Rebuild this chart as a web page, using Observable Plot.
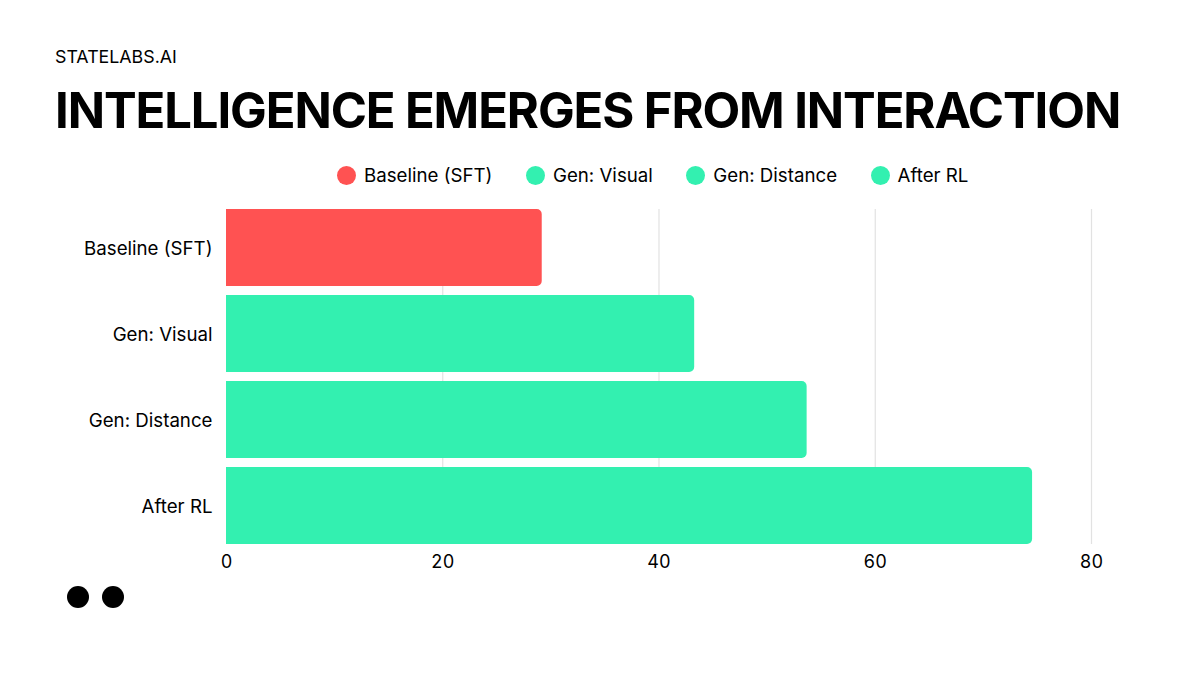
<!DOCTYPE html>
<html>
<head>
<meta charset="utf-8">
<script src="https://cdn.jsdelivr.net/npm/d3@7"></script>
<script src="https://cdn.jsdelivr.net/npm/@observablehq/plot@0.6"></script>
<style>
html,body{margin:0;padding:0;background:#fff;width:1200px;height:675px;overflow:hidden;font-family:Inter,sans-serif;color:#000}
#wrap{position:relative;width:1200px;height:675px}
#brand{position:absolute;left:55px;top:47px;font-size:17.8px;line-height:20px;font-weight:400}
#title{position:absolute;left:55px;top:80.5px;font-size:49px;line-height:60px;font-weight:700;white-space:nowrap;letter-spacing:-1.1px}
#legend{position:absolute;left:337px;top:163.5px;display:flex;gap:33.5px;font-size:18.7px;line-height:24px;font-weight:400}
.item{display:flex;align-items:center;gap:8px}
.swatch{width:19px;height:19px;border-radius:50%}
#chart{position:absolute;left:0;top:196px}
#chart svg{display:block;background:transparent}
#dots{position:absolute;left:67px;top:586px;display:flex;gap:13px}
#dots span{width:22px;height:22px;border-radius:50%;background:#000}
</style>
</head>
<body>
<div id="wrap">
<div id="brand"></div>
<div id="title"></div>
<div id="legend"></div>
<div id="chart"></div>
<div id="dots"><span></span><span></span></div>
</div>
<script>
const brand = "STATELABS.AI";
const title = "INTELLIGENCE EMERGES FROM INTERACTION";
const categories = ["Baseline (SFT)", "Gen: Visual", "Gen: Distance", "After RL"];
const values = [29.2, 43.3, 53.7, 74.55];
const colors = ["#FF5252", "#33F0B0", "#33F0B0", "#33F0B0"];
const xTicks = [0, 20, 40, 60, 80];
const gridTicks = [20, 40, 60, 80];

document.getElementById("brand").textContent = brand;
document.getElementById("title").textContent = title;
const legend = document.getElementById("legend");
categories.forEach((c, i) => {
  const item = document.createElement("div");
  item.className = "item";
  const s = document.createElement("span");
  s.className = "swatch";
  s.style.background = colors[i];
  const t = document.createElement("span");
  t.textContent = c;
  item.append(s, t);
  legend.append(item);
});

const rows = categories.map((category, i) => ({category, value: values[i]}));

const chart = Plot.plot({
  width: 1200,
  height: 390,
  marginLeft: 226,
  marginRight: 109,
  marginTop: 4,
  marginBottom: 33,
  style: {fontFamily: "Inter, sans-serif", fontSize: "18px", color: "#000", background: "transparent"},
  x: {domain: [0, 80], label: null},
  y: {domain: categories, label: null, padding: 0.105, round: false},
  color: {domain: categories, range: colors},
  marks: [
    Plot.ruleX(gridTicks, {stroke: "#e2e2e2", strokeWidth: 1.2, insetTop: 9, insetBottom: 9}),
    Plot.barX(rows, {x: "value", y: "category", fill: "category", rx2: 5}),
    Plot.axisX({ticks: xTicks, tickSize: 0, tickPadding: 2, fontSize: 18, fill: "#000", label: null, tickFormat: d => String(d)}),
    Plot.axisY({tickSize: 0, tickPadding: 14, fontSize: 18.7, fill: "#000", label: null, dy: 1})
  ]
});
document.getElementById("chart").append(chart);
</script>
</body>
</html>
